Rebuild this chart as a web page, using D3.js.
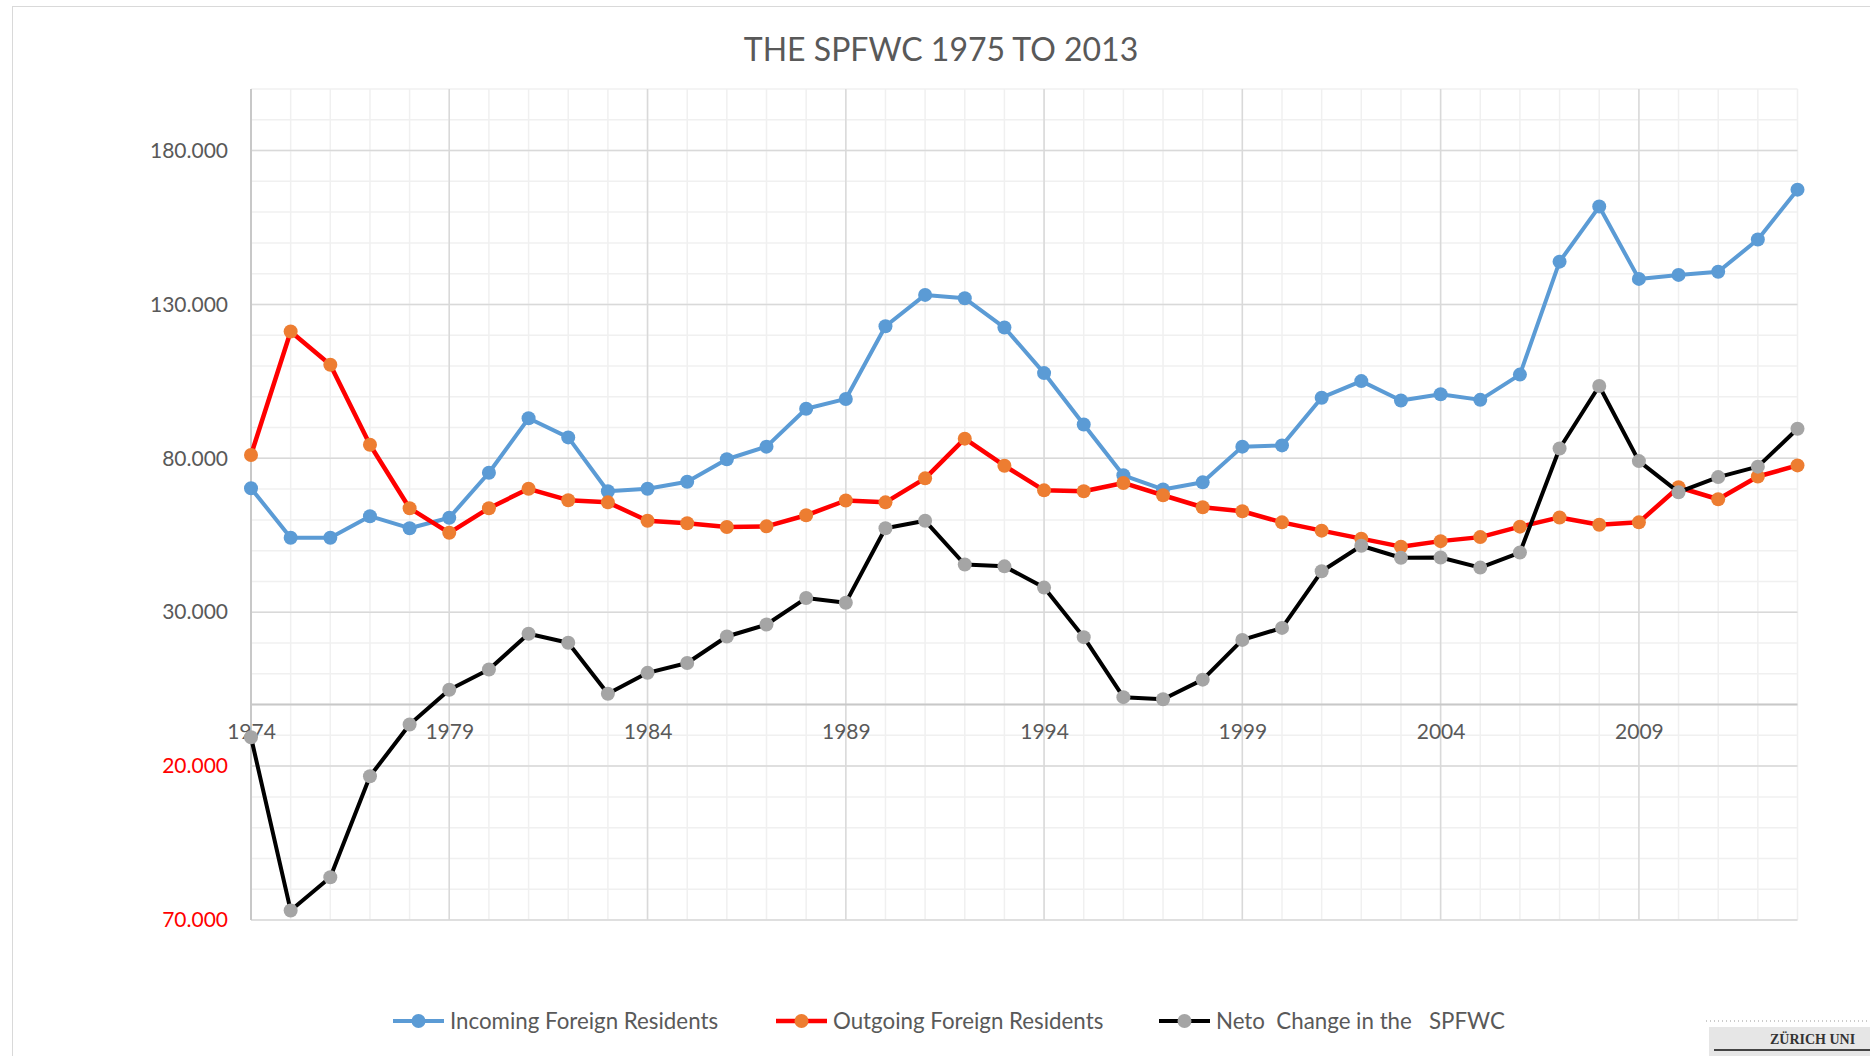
<!DOCTYPE html>
<html>
<head>
<meta charset="utf-8">
<script src="https://cdn.jsdelivr.net/npm/d3@7"></script>
<style>
  body { margin: 0; background: #fff; }
  svg { display: block; }
  .legend text { white-space: pre; }
</style>
</head>
<body>
<svg id="chart" width="1870" height="1056"></svg>
<script>
// Annual figures, 1974-2013
const years = [1974, 1975, 1976, 1977, 1978, 1979, 1980, 1981, 1982, 1983,
               1984, 1985, 1986, 1987, 1988, 1989, 1990, 1991, 1992, 1993,
               1994, 1995, 1996, 1997, 1998, 1999, 2000, 2001, 2002, 2003,
               2004, 2005, 2006, 2007, 2008, 2009, 2010, 2011, 2012, 2013];

const incoming = [70300, 54200, 54200, 61200, 57300, 60700, 75300, 93000, 86800, 69300,
                  70100, 72400, 79700, 83800, 96100, 99300, 122900, 133100, 132000, 122500,
                  107700, 91000, 74500, 69900, 72200, 83800, 84200, 99700, 105100, 98800,
                  100800, 99000, 107200, 143900, 161800, 138300, 139600, 140600, 151100, 167300];

const outgoing = [81100, 121200, 110400, 84400, 63800, 55800, 63800, 70100, 66400, 65700,
                  59700, 58900, 57700, 57900, 61500, 66300, 65700, 73500, 86400, 77600,
                  69600, 69300, 72000, 68000, 64100, 62800, 59200, 56500, 53900, 51300,
                  53100, 54400, 57800, 60800, 58400, 59200, 70600, 66700, 74100, 77700];

const neto = [-10600, -66900, -56100, -23300, -6500, 4800, 11400, 23000, 20100, 3500,
              10300, 13500, 22100, 26000, 34600, 33100, 57300, 59700, 45500, 44900,
              38000, 21900, 2400, 1700, 8100, 21000, 24900, 43300, 51600, 47700,
              47800, 44500, 49400, 83200, 103500, 79100, 69000, 73900, 77300, 89600];

const seriesNames = ["Incoming Foreign Residents", "Outgoing Foreign Residents", "Neto  Change in the   SPFWC"];
const yTickValues = [180000, 130000, 80000, 30000, -20000, -70000];
const xTickValues = [1974, 1979, 1984, 1989, 1994, 1999, 2004, 2009];
const titleText = "THE SPFWC 1975 TO 2013";

const FONT = "Lato, 'Open Sans', sans-serif";
const svg = d3.select("#chart");

// outer chart frame
svg.append("rect")
  .attr("x", 12.5).attr("y", 6.5).attr("width", 1900).attr("height", 1100)
  .attr("fill", "none").attr("stroke", "#d9d9d9").attr("stroke-width", 1);

const x = d3.scaleLinear().domain([1974, 2013]).range([251, 1797.5]);
const y = d3.scaleLinear().domain([-70000, 200000]).range([920, 89]);

const grid = svg.append("g");

// minor grid
grid.selectAll("line.hminor")
  .data(d3.range(-70000, 200001, 10000))
  .join("line")
  .attr("x1", x(1974)).attr("x2", x(2013))
  .attr("y1", d => y(d)).attr("y2", d => y(d))
  .attr("stroke", "#f0f0f0").attr("stroke-width", 1.5);

grid.selectAll("line.vminor")
  .data(years)
  .join("line")
  .attr("x1", d => x(d)).attr("x2", d => x(d))
  .attr("y1", y(200000)).attr("y2", y(-70000))
  .attr("stroke", "#f0f0f0").attr("stroke-width", 1.5);

// major grid
grid.selectAll("line.hmajor")
  .data(yTickValues)
  .join("line")
  .attr("x1", x(1974)).attr("x2", x(2013))
  .attr("y1", d => y(d)).attr("y2", d => y(d))
  .attr("stroke", "#d9d9d9").attr("stroke-width", 1.5);

grid.selectAll("line.vmajor")
  .data(xTickValues.slice(1))
  .join("line")
  .attr("x1", d => x(d)).attr("x2", d => x(d))
  .attr("y1", y(200000)).attr("y2", y(-70000))
  .attr("stroke", "#d9d9d9").attr("stroke-width", 1.5);

// value axis line
svg.append("line")
  .attr("x1", x(1974)).attr("x2", x(1974))
  .attr("y1", y(200000)).attr("y2", y(-70000))
  .attr("stroke", "#c8c8c8").attr("stroke-width", 2);

// category axis at zero
svg.append("line")
  .attr("x1", x(1974)).attr("x2", x(2013))
  .attr("y1", y(0)).attr("y2", y(0))
  .attr("stroke", "#c8c8c8").attr("stroke-width", 2);

// y tick labels: negatives shown in red without sign
const loc = d3.formatLocale({ decimal: ",", thousands: ".", grouping: [3], currency: ["", ""] });
const fmt = loc.format(",.0f");
const yAxis = d3.axisLeft(y).tickValues(yTickValues).tickSize(0).tickPadding(23)
  .tickFormat(d => fmt(Math.abs(d)));
const gy = svg.append("g").attr("transform", `translate(${x(1974)},0)`).call(yAxis);
gy.select(".domain").remove();
gy.selectAll("text")
  .attr("font-family", FONT).attr("font-size", 21)
  .attr("fill", d => d < 0 ? "#ff0000" : "#595959");

// x tick labels below the zero line
const xAxis = d3.axisBottom(x).tickValues(xTickValues).tickSize(0).tickPadding(20)
  .tickFormat(d3.format("d"));
const gx = svg.append("g").attr("transform", `translate(0,${y(0)})`).call(xAxis);
gx.select(".domain").remove();
gx.selectAll("text")
  .attr("font-family", FONT).attr("font-size", 21)
  .attr("fill", "#595959");

// series
const series = [
  { name: seriesNames[0], values: incoming, line: "#5b9bd5", marker: "#5b9bd5", width: 4 },
  { name: seriesNames[1], values: outgoing, line: "#ff0000", marker: "#ed7d31", width: 4.5 },
  { name: seriesNames[2], values: neto, line: "#000000", marker: "#a5a5a5", width: 4 }
];

const lineGen = d3.line().x((d, i) => x(years[i])).y(d => y(d));

series.forEach(s => {
  const g = svg.append("g");
  g.append("path")
    .attr("d", lineGen(s.values))
    .attr("fill", "none").attr("stroke", s.line).attr("stroke-width", s.width)
    .attr("stroke-linejoin", "round");
  g.selectAll("circle")
    .data(s.values)
    .join("circle")
    .attr("cx", (d, i) => x(years[i])).attr("cy", d => y(d))
    .attr("r", 7).attr("fill", s.marker);
});

// title
svg.append("text")
  .attr("x", 941).attr("y", 61)
  .attr("text-anchor", "middle")
  .attr("font-family", FONT).attr("font-size", 32)
  .attr("fill", "#595959")
  .text(titleText);

// legend
const legendX = [393, 776, 1159];
const legend = svg.append("g").attr("class", "legend");
series.forEach((s, i) => {
  const lg = legend.append("g").attr("transform", `translate(${legendX[i]},1021)`);
  lg.append("line").attr("x1", 0).attr("x2", 51).attr("y1", 0).attr("y2", 0)
    .attr("stroke", s.line).attr("stroke-width", s.width);
  lg.append("circle").attr("cx", 25.5).attr("cy", 0).attr("r", 7).attr("fill", s.marker);
  lg.append("text").attr("x", 57).attr("y", 7.5)
    .attr("font-family", FONT).attr("font-size", 22.3).attr("fill", "#595959")
    .attr("xml:space", "preserve")
    .text(s.name);
});

// corner stamp
const stamp = svg.append("g");
stamp.append("line").attr("x1", 1706).attr("x2", 1870).attr("y1", 1021).attr("y2", 1021)
  .attr("stroke", "#999").attr("stroke-width", 1).attr("stroke-dasharray", "1,3");
stamp.append("rect").attr("x", 1709).attr("y", 1027).attr("width", 170).attr("height", 40)
  .attr("fill", "#e6e6e6");
stamp.append("text").attr("x", 1770).attr("y", 1044)
  .attr("font-family", "'Liberation Serif', serif").attr("font-weight", "bold")
  .attr("font-size", 14).attr("fill", "#333")
  .text("ZÜRICH UNI");
stamp.append("line").attr("x1", 1714).attr("x2", 1870).attr("y1", 1050).attr("y2", 1050)
  .attr("stroke", "#444").attr("stroke-width", 2);
</script>
</body>
</html>
